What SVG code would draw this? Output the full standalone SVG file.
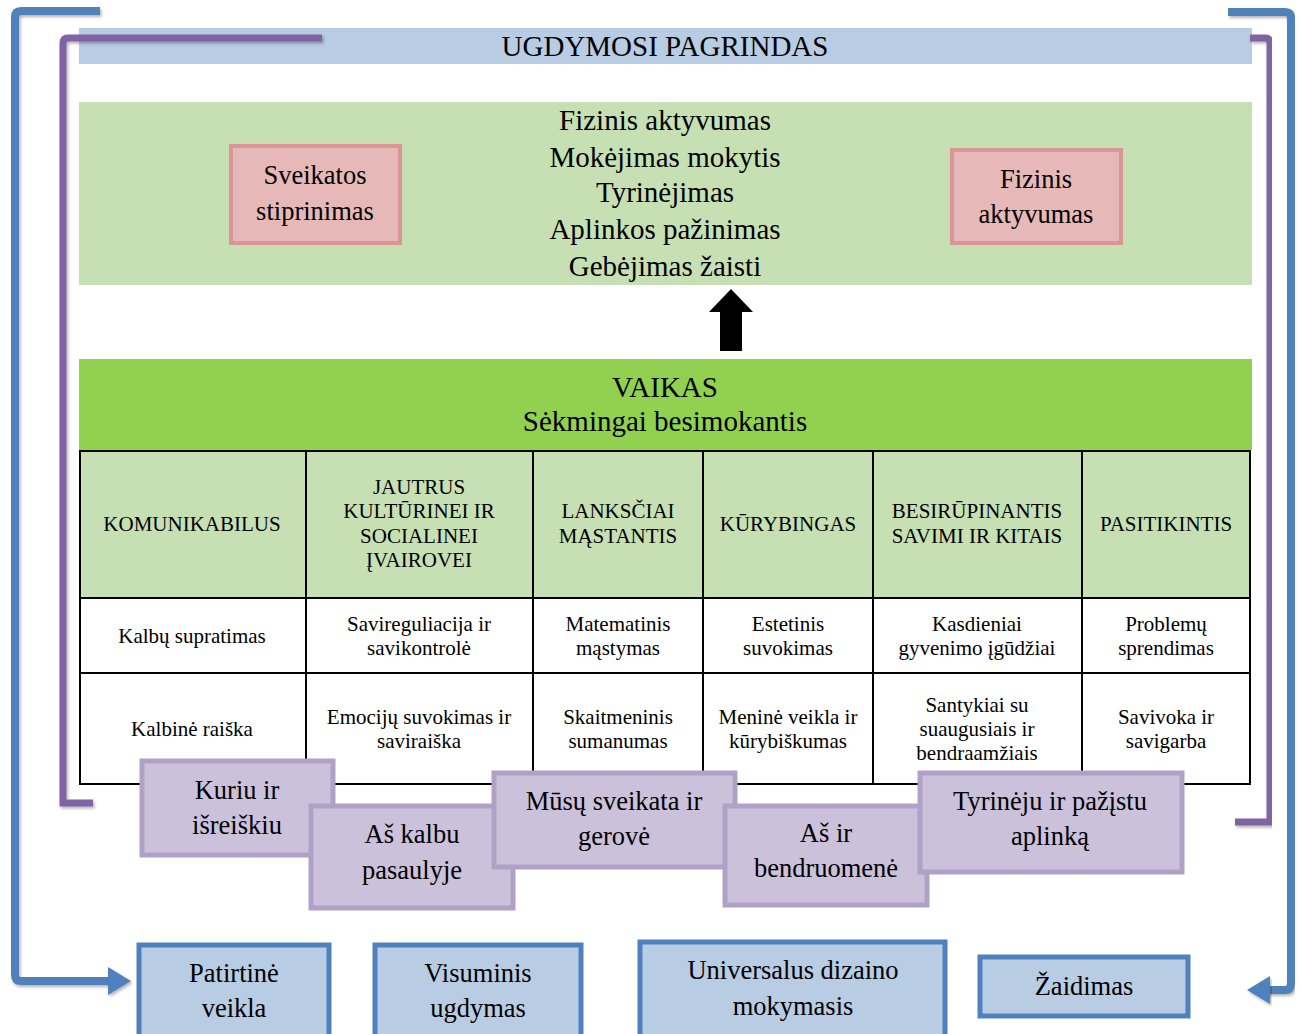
<svg xmlns="http://www.w3.org/2000/svg" width="1301" height="1034" viewBox="0 0 1301 1034">
<defs>
<filter id="sh" x="-5%" y="-5%" width="110%" height="110%">
<feDropShadow dx="1.5" dy="2" stdDeviation="1.5" flood-color="#000" flood-opacity="0.3"/>
</filter>
<style>
text{font-family:"Liberation Serif","Times New Roman",serif;fill:#000;text-anchor:middle}
.big{font-size:29px}
.box{font-size:26.5px}
.th{font-size:21px}
.td{font-size:21px}
.pink{fill:#e6b9b8;stroke:#d99694;stroke-width:4}
.purp{fill:#ccc1da;stroke:#b2a1c7;stroke-width:5}
.blue{fill:#b8cce4;stroke:#4f81bd;stroke-width:5}
.bl{fill:none;stroke:#4f81bd;stroke-width:8}
.pl{fill:none;stroke:#8064a2;stroke-width:7}
.grid{stroke:#000;stroke-width:2;fill:none}
</style>
</defs>
<rect width="1301" height="1034" fill="#fff"/>

<g id="header">
<rect x="79" y="28" width="1173" height="36" fill="#b8cce4"/>
<text x="665" y="56" style="font-size:29px">UGDYMOSI PAGRINDAS</text>
</g>

<g id="connectors">
<path class="bl" filter="url(#sh)" d="M100,11 H21 Q15,11 15,17 V975 Q15,981 21,981 H112"/>
<polygon points="108,967 131,981 108,995" fill="#4f81bd" filter="url(#sh)"/>
<path class="bl" filter="url(#sh)" d="M1228,12 H1285 Q1291,12 1291,18 V984 Q1291,990 1285,990 H1266"/>
<polygon points="1270,976 1247,990 1270,1004" fill="#4f81bd" filter="url(#sh)"/>
<path class="pl" filter="url(#sh)" d="M322,38 H68 Q63,38 63,43 V803 H93"/>
<path class="pl" filter="url(#sh)" d="M298,76 H1263"/>
<path class="pl" filter="url(#sh)" d="M1250,38 H1265 Q1270,38 1270,43 V822 H1235"/>
<polygon points="731,289 753,312 742,312 742,351 720,351 720,312 709,312" fill="#000"/>
</g>

<g id="goals">
<rect x="79" y="102" width="1173" height="183" fill="#c6e0b4"/>
<text class="big" x="665" y="130">Fizinis aktyvumas</text>
<text class="big" x="665" y="167">Mokėjimas mokytis</text>
<text class="big" x="665" y="202">Tyrinėjimas</text>
<text class="big" x="665" y="239">Aplinkos pažinimas</text>
<text class="big" x="665" y="276">Gebėjimas žaisti</text>
</g>

<g id="sveikatos">
<rect class="pink" x="231" y="146" width="169" height="97"/>
<text class="box" x="315" y="184">Sveikatos</text>
<text class="box" x="315" y="220">stiprinimas</text>
</g>
<g id="fizinis">
<rect class="pink" x="952" y="150" width="169" height="93"/>
<text class="box" x="1036" y="188">Fizinis</text>
<text class="box" x="1036" y="223">aktyvumas</text>
</g>

<g id="vaikas">
<rect x="79" y="359" width="1173" height="91" fill="#92d050"/>
<text class="big" x="665" y="397">VAIKAS</text>
<text class="big" x="665" y="431">Sėkmingai besimokantis</text>
</g>

<g id="table">
<rect x="80" y="451" width="1170" height="147" fill="#c6e0b4"/>
<rect class="grid" x="80" y="451" width="1170" height="333"/>
<path class="grid" d="M80,598 H1250 M80,673 H1250 M306,451 V784 M533,451 V784 M703,451 V784 M873,451 V784 M1082,451 V784"/>
<text class="th" x="192" y="531">KOMUNIKABILUS</text>
<text class="th" x="419" y="494">JAUTRUS</text>
<text class="th" x="419" y="518">KULTŪRINEI IR</text>
<text class="th" x="419" y="543">SOCIALINEI</text>
<text class="th" x="419" y="567">ĮVAIROVEI</text>
<text class="th" x="618" y="518">LANKSČIAI</text>
<text class="th" x="618" y="543">MĄSTANTIS</text>
<text class="th" x="788" y="531">KŪRYBINGAS</text>
<text class="th" x="977" y="518">BESIRŪPINANTIS</text>
<text class="th" x="977" y="543">SAVIMI IR KITAIS</text>
<text class="th" x="1166" y="531">PASITIKINTIS</text>

<text class="td" x="192" y="643">Kalbų supratimas</text>
<text class="td" x="419" y="631">Savireguliacija ir</text>
<text class="td" x="419" y="655">savikontrolė</text>
<text class="td" x="618" y="631">Matematinis</text>
<text class="td" x="618" y="655">mąstymas</text>
<text class="td" x="788" y="631">Estetinis</text>
<text class="td" x="788" y="655">suvokimas</text>
<text class="td" x="977" y="631">Kasdieniai</text>
<text class="td" x="977" y="655">gyvenimo įgūdžiai</text>
<text class="td" x="1166" y="631">Problemų</text>
<text class="td" x="1166" y="655">sprendimas</text>

<text class="td" x="192" y="736">Kalbinė raiška</text>
<text class="td" x="419" y="724">Emocijų suvokimas ir</text>
<text class="td" x="419" y="748">saviraiška</text>
<text class="td" x="618" y="724">Skaitmeninis</text>
<text class="td" x="618" y="748">sumanumas</text>
<text class="td" x="788" y="724">Meninė veikla ir</text>
<text class="td" x="788" y="748">kūrybiškumas</text>
<text class="td" x="977" y="712">Santykiai su</text>
<text class="td" x="977" y="736">suaugusiais ir</text>
<text class="td" x="977" y="760">bendraamžiais</text>
<text class="td" x="1166" y="724">Savivoka ir</text>
<text class="td" x="1166" y="748">savigarba</text>
</g>

<g id="kuriu">
<rect class="purp" x="142" y="761" width="191" height="94"/>
<text class="box" x="237" y="799">Kuriu ir</text>
<text class="box" x="237" y="834">išreiškiu</text>
</g>
<g id="askalbu">
<rect class="purp" x="311" y="806" width="202" height="102"/>
<text class="box" x="412" y="843">Aš kalbu</text>
<text class="box" x="412" y="879">pasaulyje</text>
</g>
<g id="musu">
<rect class="purp" x="494" y="773" width="241" height="94"/>
<text class="box" x="614" y="810">Mūsų sveikata ir</text>
<text class="box" x="614" y="845">gerovė</text>
</g>
<g id="asir">
<rect class="purp" x="725" y="806" width="202" height="99"/>
<text class="box" x="826" y="842">Aš ir</text>
<text class="box" x="826" y="877">bendruomenė</text>
</g>
<g id="tyrineju">
<rect class="purp" x="920" y="773" width="262" height="99"/>
<text class="box" x="1050" y="810">Tyrinėju ir pažįstu</text>
<text class="box" x="1050" y="845">aplinką</text>
</g>

<g id="patirtine">
<rect class="blue" x="139" y="945" width="190" height="95"/>
<text class="box" x="234" y="982">Patirtinė</text>
<text class="box" x="234" y="1017">veikla</text>
</g>
<g id="visuminis">
<rect class="blue" x="375" y="945" width="206" height="95"/>
<text class="box" x="478" y="982">Visuminis</text>
<text class="box" x="478" y="1017">ugdymas</text>
</g>
<g id="universalus">
<rect class="blue" x="640" y="942" width="305" height="98"/>
<text class="box" x="793" y="979">Universalus dizaino</text>
<text class="box" x="793" y="1015">mokymasis</text>
</g>
<g id="zaidimas">
<rect class="blue" x="980" y="957" width="208" height="59"/>
<text class="box" x="1084" y="995">Žaidimas</text>
</g>
</svg>
